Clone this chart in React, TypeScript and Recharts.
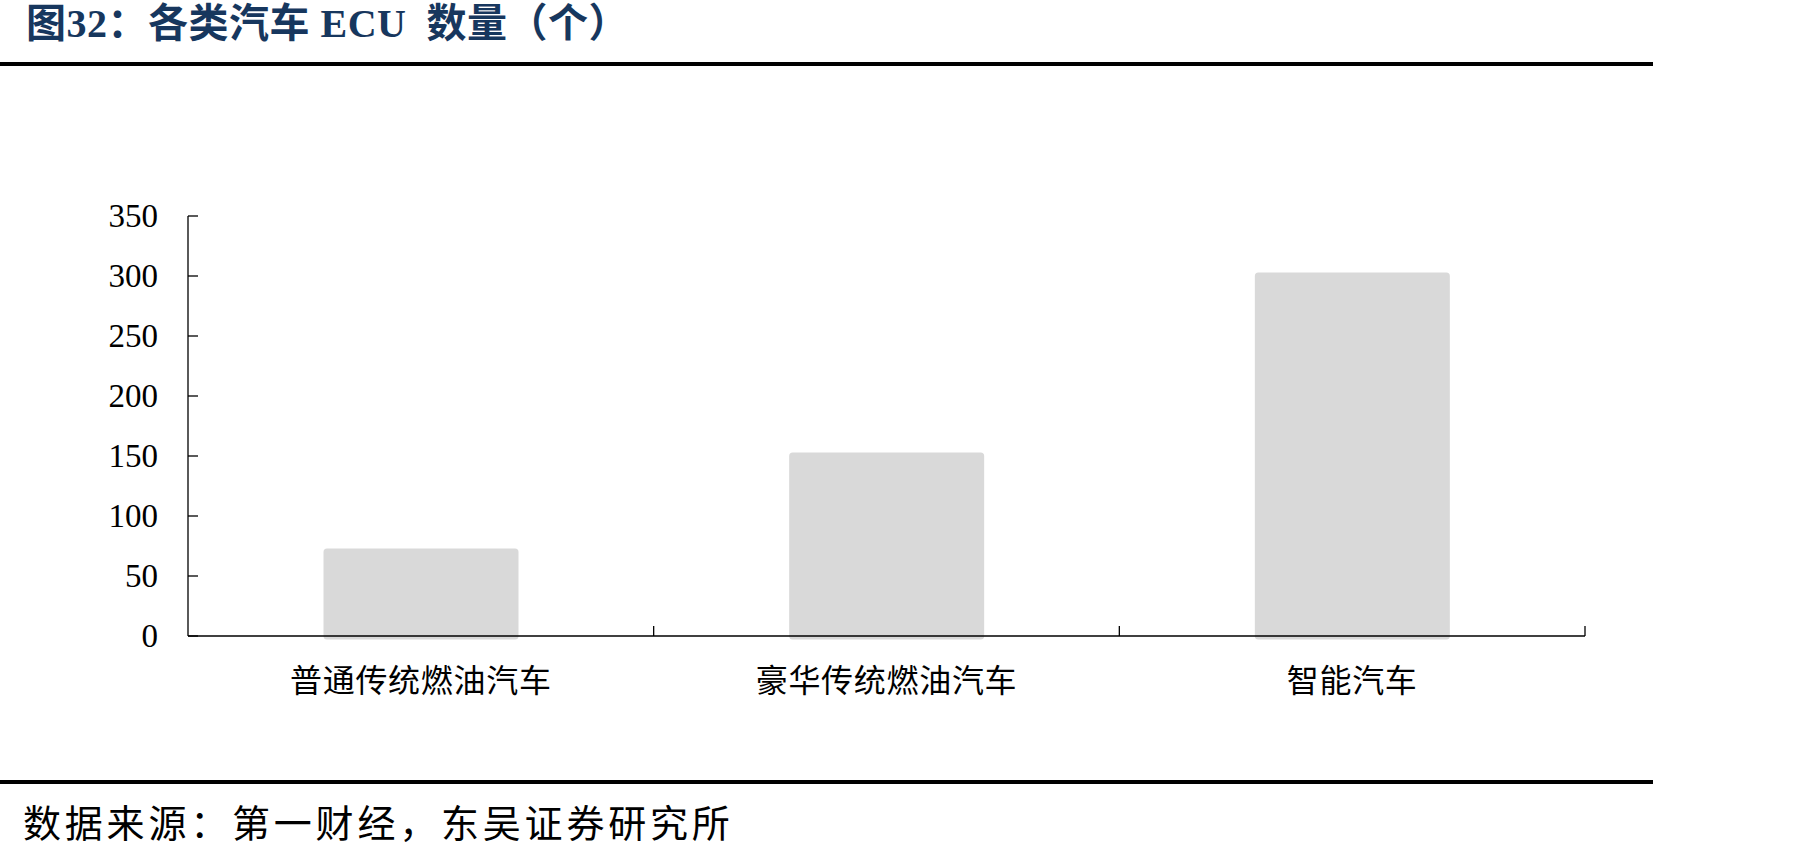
import { BarChart, Bar, XAxis, YAxis } from 'recharts'

const CATEGORIES = ['普通传统燃油汽车', '豪华传统燃油汽车', '智能汽车']
const ECU_COUNTS = [70, 150, 300]
const Y_TICKS = [0, 50, 100, 150, 200, 250, 300, 350]

const TITLE_PARTS = ['图32：各类汽车 ECU', '数量（个）']
const SOURCE = '数据来源：第一财经，东吴证券研究所'

const W = 1807
const H = 856
const MARGIN = { top: 216, right: 222, bottom: 160, left: 108 }
const Y_AXIS_W = 80
const X_AXIS_H = 60
const PLOT_W = W - MARGIN.left - Y_AXIS_W - MARGIN.right
const BAND = PLOT_W / CATEGORIES.length

const LABEL_GAP = 30
const TICK_LEN = 10

const serif = '"Liberation Serif", "Times New Roman", serif'
const cjk = '"Noto Sans CJK SC", sans-serif'

const data = CATEGORIES.map((name, i) => ({ name, value: ECU_COUNTS[i] }))

function YTick({ x, y, payload }: any) {
  const axisX = x + LABEL_GAP
  return (
    <g>
      <line x1={axisX} x2={axisX + TICK_LEN} y1={y} y2={y} stroke="#000" strokeWidth={1.3} />
      <text x={x} y={y} textAnchor="end" dominantBaseline="central" fontFamily={serif} fontSize={33} fill="#000">
        {payload.value}
      </text>
    </g>
  )
}

// category labels + boundary ticks pointing up into the plot
function XTick({ x, y, payload, index }: any) {
  const left = x - BAND / 2
  const right = x + BAND / 2
  return (
    <g>
      {index > 0 && <line x1={left} x2={left} y1={y} y2={y - TICK_LEN} stroke="#000" strokeWidth={1.3} />}
      {index === CATEGORIES.length - 1 && (
        <line x1={right} x2={right} y1={y} y2={y - TICK_LEN} stroke="#000" strokeWidth={1.3} />
      )}
      <text x={x} y={y + 42} textAnchor="middle" dominantBaseline="central" fontFamily={cjk} fontSize={32} letterSpacing={0.7} fill="#000">
        {payload.value}
      </text>
    </g>
  )
}

export default function App() {
  return (
    <div style={{ position: 'absolute', left: 0, top: 0, width: W, height: H, background: '#fff', overflow: 'hidden' }}>
      <div
        style={{
          position: 'absolute',
          left: 26,
          top: 4,
          fontFamily: `${serif.split(',')[0]}, ${cjk}`,
          fontWeight: 700,
          fontSize: 40,
          lineHeight: '40px',
          letterSpacing: 0.5,
          color: '#17375E',
          whiteSpace: 'pre',
        }}
      >
        {TITLE_PARTS[0]}
        <span style={{ marginLeft: 20 }}>{TITLE_PARTS[1]}</span>
      </div>
      <div style={{ position: 'absolute', left: 0, top: 61.5, width: 1653, height: 4, background: '#000' }} />

      <div style={{ position: 'absolute', left: 0, top: 0 }}>
        <BarChart width={W} height={H} data={data} margin={MARGIN}>
          <Bar
            dataKey="value"
            fill="#D9D9D9"
            stroke="#D9D9D9"
            strokeWidth={7}
            strokeLinejoin="round"
            barSize={188}
            isAnimationActive={false}
          />
          <YAxis
            width={Y_AXIS_W}
            domain={[0, 350]}
            ticks={Y_TICKS}
            interval={0}
            tickSize={0}
            tickMargin={LABEL_GAP}
            tickLine={false}
            axisLine={{ stroke: '#000', strokeWidth: 1.3 }}
            tick={<YTick />}
          />
          <XAxis
            dataKey="name"
            height={X_AXIS_H}
            interval={0}
            tickSize={0}
            tickMargin={0}
            tickLine={false}
            axisLine={{ stroke: '#000', strokeWidth: 1.3 }}
            tick={<XTick />}
          />
        </BarChart>
      </div>

      <div style={{ position: 'absolute', left: 0, top: 780.3, width: 1653, height: 4, background: '#000' }} />
      <div
        style={{
          position: 'absolute',
          left: 23,
          top: 802,
          fontFamily: cjk,
          fontSize: 38,
          lineHeight: '38px',
          letterSpacing: 3.8,
          color: '#000',
          whiteSpace: 'pre',
        }}
      >
        {SOURCE}
      </div>
    </div>
  )
}
